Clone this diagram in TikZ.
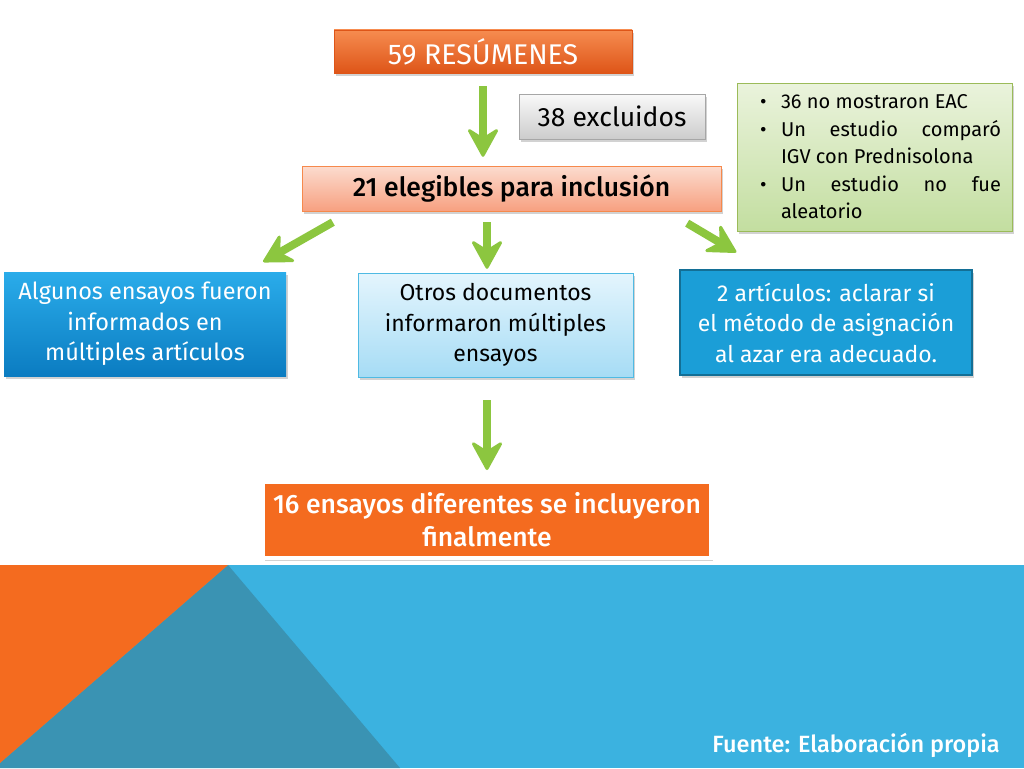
\documentclass[tikz,border=0pt]{standalone}
\usepackage{fontspec}
\setmainfont{Fira Sans}
\newfontfamily\medio{Fira Sans Medium}
\usetikzlibrary{arrows.meta,shadows}
\definecolor{naranja}{HTML}{F46B1F}
\definecolor{naranjaclaro}{HTML}{F68C50}
\definecolor{naranjaosc}{HTML}{DE5518}
\definecolor{salmon}{HTML}{FCDCCF}
\definecolor{salmonosc}{HTML}{F7A080}
\definecolor{azul}{HTML}{3BB2E0}
\definecolor{azulosc}{HTML}{3A93B3}
\definecolor{celeste}{HTML}{2AACEA}
\definecolor{celesteosc}{HTML}{0B7CC1}
\definecolor{cielo}{HTML}{E4F5FD}
\definecolor{cieloosc}{HTML}{A6DCF5}
\definecolor{azulart}{HTML}{1B9ED7}
\definecolor{verdeclaro}{HTML}{EAF3DC}
\definecolor{verdeosc}{HTML}{C3DEA0}
\definecolor{verdeborde}{HTML}{9BBB59}
\definecolor{verdeflecha}{HTML}{8CC63F}
\begin{document}
\begin{tikzpicture}[x=1pt,y=-1pt,
  caja/.style={rectangle,inner sep=0pt,align=center,
    drop shadow={opacity=0.35,shadow xshift=2pt,shadow yshift=-3pt}},
  flecha/.style={draw=verdeflecha,line width=8pt,
    -{Stealth[length=32pt,width=35pt,inset=11pt,round,line width=3pt]}}]
\useasboundingbox (0,0) rectangle (1024,768);
\fill[white] (0,0) rectangle (1024,768);
% franja inferior
\fill[azul] (0,565) rectangle (1024,768);
\fill[azulosc] (228,565) -- (400,768) -- (0,768) -- (0,763) -- cycle;
\fill[naranja] (0,565) -- (228,565) -- (0,763) -- cycle;
% cajas
\node[caja,minimum width=298pt,minimum height=43pt,top color=naranjaclaro,bottom color=naranjaosc,
  draw=naranjaosc,text=white,font=\fontsize{28.5}{30}\selectfont] (res) at (483,51.5) {59 RESÚMENES};
\node[caja,minimum width=186pt,minimum height=45pt,top color=gray!5,bottom color=gray!40,
  draw=gray!70,font=\fontsize{26.5}{30}\selectfont] (excl) at (612,116.5) {38 excluidos};
\node[caja,minimum width=275pt,minimum height=148pt,top color=verdeclaro,bottom color=verdeosc,
  draw=verdeborde,align=left,font=\fontsize{20}{27.5}\selectfont] (nota) at (874.5,157)
  {\makebox[33pt][l]{\hspace{12pt}\textbullet}\makebox[220pt][l]{36 no mostraron EAC}\\
   \makebox[33pt][l]{\hspace{12pt}\textbullet}\makebox[220pt][s]{Un estudio comparó}\\
   \makebox[33pt]{}\makebox[220pt][l]{IGV con Prednisolona}\\
   \makebox[33pt][l]{\hspace{12pt}\textbullet}\makebox[220pt][s]{Un estudio no fue}\\
   \makebox[33pt]{}\makebox[220pt][l]{aleatorio}};
\node[caja,minimum width=419pt,minimum height=45pt,top color=salmon,bottom color=salmonosc,
  draw=naranja!80,font=\medio\fontsize{26.5}{30}\selectfont] (eleg) at (511.5,188.5) {21 elegibles para inclusión};
\node[caja,minimum width=282pt,minimum height=104pt,top color=celeste,bottom color=celesteosc,
  text=white,font=\fontsize{23.5}{30.5}\selectfont] (alg) at (145,324)
  {Algunos ensayos fueron\\informados en\\múltiples artículos};
\node[caja,minimum width=275pt,minimum height=104pt,top color=cielo,bottom color=cieloosc,
  draw=azul!90,font=\fontsize{23}{30.5}\selectfont] (otros) at (495.5,325)
  {Otros documentos\\informaron múltiples\\ensayos};
\node[caja,minimum width=292pt,minimum height=105pt,fill=azulart,draw=azulart!70!black,line width=1.5pt,
  text=white,font=\fontsize{23}{30.5}\selectfont] (art) at (826,322.5)
  {2 artículos: aclarar si\\el método de asignación\\al azar era adecuado.};
\node[caja,minimum width=448pt,minimum height=76pt,fill=naranja,draw=white,line width=4pt,
  text=white,font=\medio\fontsize{26.5}{33}\selectfont] (fin) at (487,520)
  {16 ensayos diferentes se incluyeron\\finalmente};
\node[anchor=base east,text=white,inner sep=0pt,font=\medio\fontsize{23.5}{26}\selectfont] (fuente) at (1000,752)
  {Fuente: Elaboración propia};
% flechas
\draw[flecha,shorten <=13pt,shorten >=9pt] (res.south) -- (res.south |- eleg.north);
\draw[flecha] ([xshift=31pt,yshift=-11pt]eleg.south west) -- ([xshift=-23pt,yshift=10pt]alg.north east);
\draw[flecha,shorten <=11pt,shorten >=4pt] (eleg.south -| fin.north) -- (otros.north -| fin.north);
\draw[flecha] ([xshift=-34pt,yshift=-12pt]eleg.south east) -- ([xshift=57pt,yshift=17pt]art.north west);
\draw[flecha,shorten <=23pt,shorten >=10pt] (otros.south -| fin.north) -- (fin.north);
\end{tikzpicture}
\end{document}
